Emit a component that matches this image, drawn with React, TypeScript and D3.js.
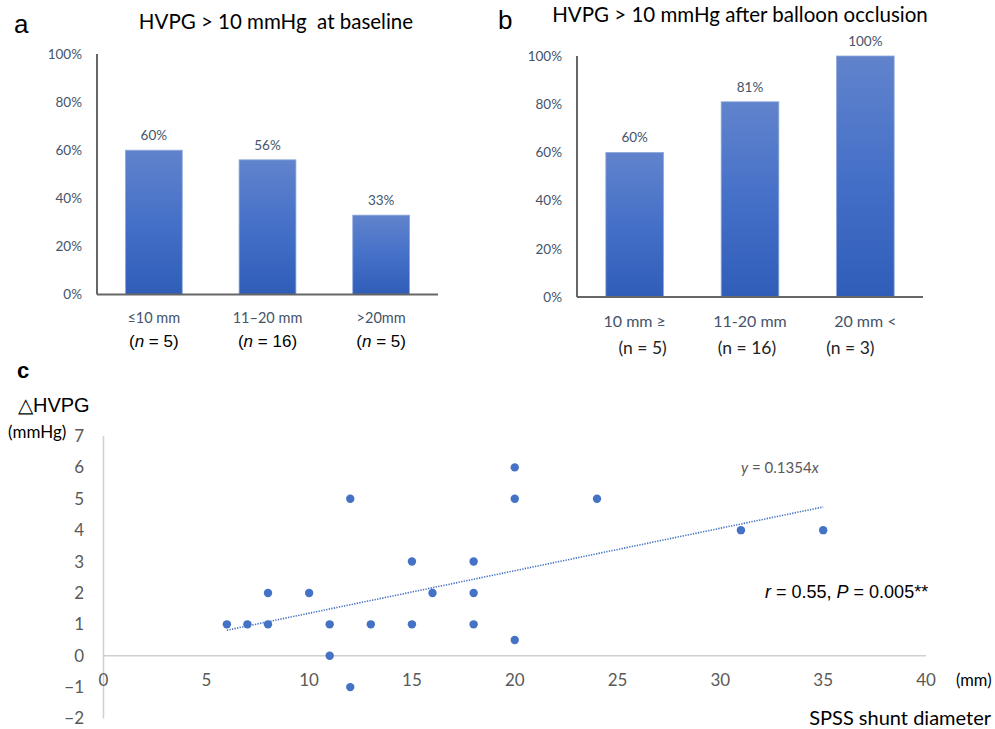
import React from "react";
import * as d3 from "d3";

// ---------- DATA ----------
const catsA = ["≤10 mm", "11–20 mm", ">20mm"];
const nA = ["5", "16", "5"];
const valsA = [60, 56, 33];

const catsB = ["10 mm ≥", "11-20 mm", "20 mm <"];
const nB = ["5", "16", "3"];
const valsB = [60, 81, 100];

const pctTicks = [0, 20, 40, 60, 80, 100];

const diameter = [6, 7, 8, 8, 10, 11, 11, 12, 12, 13, 15, 15, 16, 18, 18, 18, 20, 20, 20, 24, 31, 35];
const deltaHVPG = [1, 1, 2, 1, 2, 1, 0, 5, -1, 1, 3, 1, 2, 3, 2, 1, 6, 5, 0.5, 5, 4, 4];
const xTicksC = [0, 5, 10, 15, 20, 25, 30, 35, 40];
const yTicksC = [-2, -1, 0, 1, 2, 3, 4, 5, 6, 7];
const slope = 0.1354;
const trendRange = [6, 35];

// ---------- STYLE ----------
const BLUE = "#4472C4";
const SLATE = "#44546A";
const CAL = "Lato, 'Open Sans', sans-serif";
const ARIAL = "'Liberation Sans', Arial, sans-serif";

type BarProps = {
  cats: string[];
  ns: string[];
  vals: number[];
  x0: number;
  x1: number;
  yTop: number;
  yBot: number;
  gradId: string;
  nItalic: boolean;
  nOffsets: number[];
  catY: number;
  catSize: number;
  nY: number;
  nFont: string;
  nSize: number;
  nColor: string;
};

function BarPanel(p: BarProps) {
  const x = d3.scaleBand<string>().domain(p.cats).range([p.x0, p.x1]).paddingInner(0.5).paddingOuter(0.25);
  const y = d3.scaleLinear().domain([0, 100]).range([p.yBot, p.yTop]);
  return (
    <g>
      <defs>
        <linearGradient id={p.gradId} x1="0" y1="0" x2="0" y2="1">
          <stop offset="0" stopColor="#6183CC" />
          <stop offset="0.5" stopColor="#4570C8" />
          <stop offset="1" stopColor="#2F5DB8" />
        </linearGradient>
      </defs>
      {pctTicks.map((t) => (
        <text key={t} x={p.x0 - 15} y={y(t)} dy="0.35em" textAnchor="end" fontFamily={CAL} fontSize={13.5} fill={SLATE}>
          {t}%
        </text>
      ))}
      {p.cats.map((c, i) => (
        <g key={c}>
          <rect
            x={x(c)!}
            y={y(p.vals[i])}
            width={x.bandwidth()}
            height={p.yBot - y(p.vals[i])}
            fill={`url(#${p.gradId})`}
            stroke="#8EA9DB"
            strokeWidth={0.8}
          />
          <text x={x(c)! + x.bandwidth() / 2} y={y(p.vals[i]) - 10} textAnchor="middle" fontFamily={CAL} fontSize={13.5} fill={SLATE}>
            {p.vals[i]}%
          </text>
          <text x={x(c)! + x.bandwidth() / 2} y={p.catY} dy="0.35em" textAnchor="middle" fontFamily={CAL} fontSize={p.catSize} fill={SLATE}>
            {c}
          </text>
          <text
            x={x(c)! + x.bandwidth() / 2 + p.nOffsets[i]}
            y={p.nY}
            dy="0.35em"
            textAnchor="middle"
            fontFamily={p.nFont}
            fontSize={p.nSize}
            fill={p.nColor}
          >
            (<tspan fontStyle={p.nItalic ? "italic" : "normal"}>n</tspan> = {p.ns[i]})
          </text>
        </g>
      ))}
      <line x1={p.x0} x2={p.x0} y1={p.yTop} y2={p.yBot} stroke="#333" strokeWidth={1.5} />
      <line x1={p.x0} x2={p.x1} y1={p.yBot} y2={p.yBot} stroke="#666" strokeWidth={2} />
    </g>
  );
}

function Scatter() {
  const x = d3.scaleLinear().domain([0, 40]).range([103.5, 926]);
  const y = d3.scaleLinear().domain([-2, 7]).range([718.5, 436]);
  const tr = trendRange.map((v) => [x(v), y(slope * v)] as [number, number]);
  const line = d3.line()(tr) || "";
  return (
    <g>
      <line x1={x(0)} x2={x(0)} y1={y(7)} y2={y(-2)} stroke="#D0D0D0" strokeWidth={1.5} />
      <line x1={x(0)} x2={x(40)} y1={y(0)} y2={y(0)} stroke="#D0D0D0" strokeWidth={1.5} />
      {yTicksC.map((t) => (
        <text key={t} x={84} y={y(t)} dy="0.35em" textAnchor="end" fontFamily={CAL} fontSize={17} fill="#595959">
          {t < 0 ? "−" + Math.abs(t) : t}
        </text>
      ))}
      {xTicksC.map((t) => (
        <text key={t} x={x(t)} y={680} dy="0.35em" textAnchor="middle" fontFamily={CAL} fontSize={17} fill="#595959">
          {t}
        </text>
      ))}
      <path d={line} stroke={BLUE} strokeWidth={1.6} strokeDasharray="1.3 1.3" fill="none" />
      {diameter.map((d, i) => (
        <circle key={i} cx={x(d)} cy={y(deltaHVPG[i])} r={4.2} fill={BLUE} />
      ))}
      <text x={741} y={468} dy="0.35em" fontFamily={CAL} fontSize={15} fill="#595959">
        <tspan fontStyle="italic">y</tspan> = 0.1354<tspan fontStyle="italic">x</tspan>
      </text>
      <text x={765} y={592} dy="0.35em" fontFamily={ARIAL} fontSize={18} fill="#000">
        <tspan fontStyle="italic">r</tspan> = 0.55, <tspan fontStyle="italic">P</tspan> = 0.005**
      </text>
      <text x={956} y={680} dy="0.35em" fontFamily={CAL} fontSize={16.5} fill="#000">(mm)</text>
      <text x={991} y={718} dy="0.35em" textAnchor="end" fontFamily={CAL} fontSize={20} fill="#000">SPSS shunt diameter</text>
      <text x={18} y={405} dy="0.35em" fontFamily={ARIAL} fontSize={20} fill="#000">△HVPG</text>
      <text x={8} y={432} dy="0.35em" fontFamily={CAL} fontSize={17} fill="#000">(mmHg)</text>
      <text x={17} y={370} dy="0.35em" fontFamily={ARIAL} fontWeight="bold" fontSize={22} fill="#000">c</text>
    </g>
  );
}

export default function App() {
  return (
    <svg width={995} height={729} style={{ position: "absolute", left: 0, top: 0, background: "#fff" }}>
      <rect width={995} height={729} fill="#fff" />
      <text x={14} y={24} dy="0.35em" fontFamily={ARIAL} fontSize={26} fill="#000">a</text>
      <text x={276} y={22} dy="0.35em" textAnchor="middle" fontFamily={CAL} fontSize={20.5} fill="#000" style={{ whiteSpace: "pre" }}>
        {"HVPG > 10 mmHg  at baseline"}
      </text>
      <text x={498} y={20} dy="0.35em" fontFamily={ARIAL} fontSize={26} fill="#000">b</text>
      <text x={740} y={15} dy="0.35em" textAnchor="middle" fontFamily={CAL} fontSize={20.5} fill="#000">
        HVPG {">"} 10 mmHg after balloon occlusion
      </text>
      <BarPanel
        cats={catsA}
        ns={nA}
        vals={valsA}
        x0={97}
        x1={438}
        yTop={54}
        yBot={294.5}
        gradId="gA"
        nItalic={true}
        nOffsets={[0, 0, 0]}
        catY={318}
        catSize={14.5}
        nY={341}
        nFont={ARIAL}
        nSize={17}
        nColor="#000"
      />
      <BarPanel
        cats={catsB}
        ns={nB}
        vals={valsB}
        x0={577}
        x1={923}
        yTop={56}
        yBot={297}
        gradId="gB"
        nItalic={false}
        nOffsets={[8, -3, -15]}
        catY={321}
        catSize={16}
        nY={348}
        nFont={CAL}
        nSize={17.5}
        nColor="#222"
      />
      <Scatter />
    </svg>
  );
}
